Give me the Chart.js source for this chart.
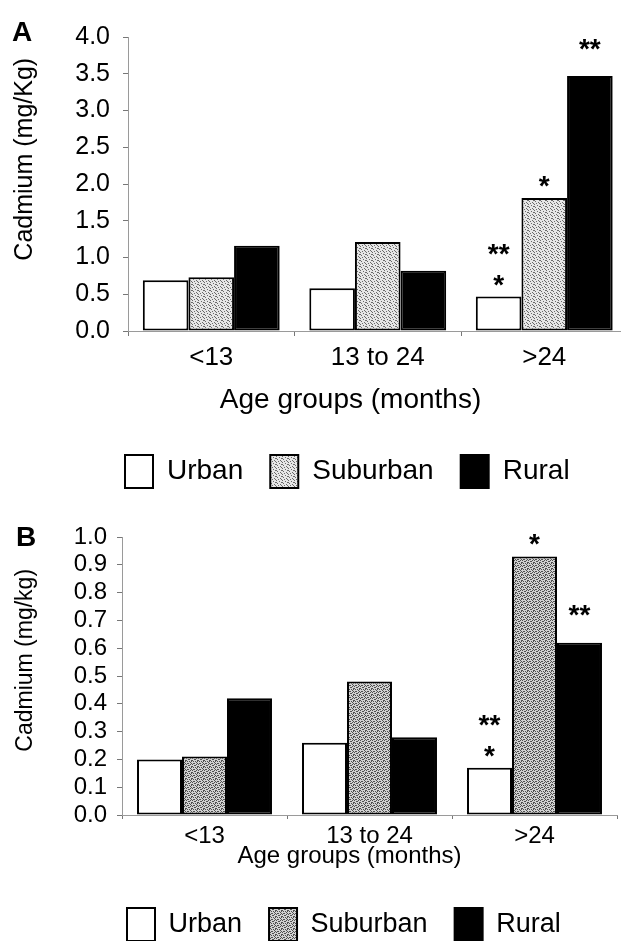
<!DOCTYPE html>
<html>
<head>
<meta charset="utf-8">
<script src="https://cdn.jsdelivr.net/npm/chart.js@4.4.1/dist/chart.umd.min.js"></script>
<style>
    html, body { margin: 0; padding: 0; background: #fff; overflow: hidden; width: 621px; height: 941px; }
    canvas { position: absolute; left: 0; }
    #chartA { top: 0; }
    #chartB { top: 500px; }
    .panel { position: absolute; font: bold 28px "Liberation Sans", Arial, sans-serif; line-height: 28px; color: #000; }
</style>
</head>
<body>
<canvas id="chartA" width="640" height="498"></canvas>
<canvas id="chartB" width="640" height="451"></canvas>
<div class="panel" style="left:12px; top:18px;">A</div>
<div class="panel" style="left:16px; top:523px;">B</div>
<script>
// age groups shared by both panels
const ageGroups = ['<13', '13 to 24', '>24'];
const seriesNames = ['Urban', 'Suburban', 'Rural'];

// panel A, cadmium mg/Kg
const urbanA = [0.69, 0.58, 0.47];
const suburbanA = [0.73, 1.21, 1.81];
const ruralA = [1.16, 0.82, 3.47];
const yMaxA = 4.0;
const yStepA = 0.5;

// panel B, cadmium mg/kg
const urbanB = [0.20, 0.26, 0.17];
const suburbanB = [0.21, 0.48, 0.93];
const ruralB = [0.42, 0.28, 0.62];
const yMaxB = 1.0;
const yStepB = 0.1;

// significance marks, listed from the bar upwards
const starsA = [
    [[], [], ['*', '**']],
    [[], [], ['*']],
    [[], [], ['**']]
];
const starsB = [
    [[], [], ['*', '**']],
    [[], [], ['*']],
    [[], [], ['**']]
];

const FONT = '"Liberation Sans", Arial, sans-serif';
Chart.defaults.font.family = FONT;
Chart.defaults.color = '#000';

function stipple(base, dot, pts) {
    const c = document.createElement('canvas');
    c.width = 6;
    c.height = 6;
    const g = c.getContext('2d');
    g.fillStyle = base;
    g.fillRect(0, 0, 6, 6);
    g.fillStyle = dot;
    pts.forEach(p => g.fillRect(p[0], p[1], 1, 1));
    return g.createPattern(c, 'repeat');
}

const lightDots = [[0, 0], [3, 1], [5, 2], [1, 3], [4, 4], [2, 5], [5, 5], [0, 2]];
const darkDots = lightDots.concat([[2, 1], [4, 0], [1, 5], [3, 3], [5, 3]]);

const starsPlugin = {
    id: 'stars',
    afterDatasetsDraw(chart, args, opts) {
        const ctx = chart.ctx;
        const size = opts.size;
        ctx.save();
        ctx.font = 'bold ' + size + 'px ' + FONT;
        ctx.fillStyle = '#000';
        ctx.textAlign = 'center';
        ctx.textBaseline = 'alphabetic';
        opts.marks.forEach((series, di) => {
            const meta = chart.getDatasetMeta(di);
            series.forEach((lines, i) => {
                const bar = meta.data[i];
                lines.forEach((txt, k) => {
                    const cy = bar.y - opts.gap[di] - k * opts.step;
                    ctx.fillText(txt, bar.x, cy + 0.56 * size);
                });
            });
        });
        ctx.restore();
    }
};

// moves the legend row sideways after layout
const legendShift = {
    id: 'legendShift',
    afterLayout(chart, args, opts) {
        if (!chart.legend) return;
        chart.legend.left += opts.x;
        chart.legend.right += opts.x;
    }
};

function makeChart(id, cfg) {
    const nb = '\u00a0';
    const ctx = document.getElementById(id).getContext('2d');
    const bar = {
        categoryPercentage: cfg.groupWidth,
        barPercentage: 1.0,
        borderColor: '#000',
        borderWidth: 2,
        borderSkipped: false
    };
    return new Chart(ctx, {
        type: 'bar',
        data: {
            labels: ageGroups,
            datasets: [
                Object.assign({ label: seriesNames[0], data: cfg.urban, backgroundColor: '#fff' }, bar),
                Object.assign({ label: seriesNames[1], data: cfg.suburban, backgroundColor: cfg.pattern }, bar),
                Object.assign({ label: seriesNames[2], data: cfg.rural, backgroundColor: '#000' }, bar)
            ]
        },
        options: {
            responsive: false,
            animation: false,
            layout: { padding: { top: cfg.top, right: cfg.right, bottom: 0, left: 0 } },
            scales: {
                x: {
                    afterFit: function(scale) { scale.height = cfg.xHeight; },
                    grid: { display: true, drawOnChartArea: false, drawTicks: true, tickLength: cfg.xTick, color: '#777' },
                    border: { display: true, color: '#9a9a9a', width: 1, dash: [2, 2] },
                    ticks: { padding: cfg.xPad, font: { size: cfg.xFont }, color: '#000' },
                    title: {
                        display: true,
                        text: 'Age groups (months)' + nb.repeat(cfg.xShift),
                        font: { size: cfg.xTitleFont },
                        padding: { top: 0, bottom: cfg.xTitlePad },
                        color: '#000'
                    }
                },
                y: {
                    min: 0,
                    max: cfg.yMax,
                    afterFit: function(scale) { scale.width = cfg.yWidth; },
                    grid: { display: true, drawOnChartArea: false, drawTicks: true, tickLength: 5, color: '#777' },
                    border: { display: true, color: '#9a9a9a', width: 1, dash: [2, 2] },
                    ticks: {
                        stepSize: cfg.yStep,
                        autoSkip: false,
                        padding: cfg.yPad,
                        font: { size: cfg.yFont },
                        color: '#000',
                        callback: function(value) { return value.toFixed(1); }
                    },
                    title: {
                        display: true,
                        align: 'end',
                        text: cfg.yTitle + nb.repeat(cfg.yShift),
                        font: { size: cfg.yTitleFont },
                        padding: { top: cfg.yTitlePad, bottom: 0 },
                        color: '#000'
                    }
                }
            },
            plugins: {
                legend: {
                    position: 'bottom',
                    align: 'start',
                    labels: {
                        boxWidth: 28,
                        boxHeight: 33,
                        padding: 27,
                        color: '#000',
                        font: { size: cfg.legendFont }
                    }
                },
                legendShift: { x: cfg.legendX },
                tooltip: { enabled: false },
                stars: { marks: cfg.stars, size: 28, gap: [18, 19, 34], step: 31 }
            }
        },
        plugins: [starsPlugin, legendShift]
    });
}

makeChart('chartA', {
    urban: urbanA, suburban: suburbanA, rural: ruralA, stars: starsA,
    pattern: stipple('#e6e6e6', '#6a6a6a', lightDots),
    yMax: yMaxA, yStep: yStepA, yTitle: 'Cadmium (mg/Kg)',
    groupWidth: 0.822, top: 37, right: 12.5, yWidth: 128, xHeight: 97,
    xTick: 5, xPad: 6, xFont: 26, xTitleFont: 28, xTitlePad: 11, xShift: 7,
    yPad: 13, yFont: 25, yTitleFont: 25, yTitlePad: 10, yShift: 3,
    legendFont: 28, legendX: 98
});

makeChart('chartB', {
    urban: urbanB, suburban: suburbanB, rural: ruralB, stars: starsB,
    pattern: stipple('#d2d2d2', '#505050', darkDots),
    yMax: yMaxB, yStep: yStepB, yTitle: 'Cadmium (mg/kg)',
    groupWidth: 0.818, top: 37, right: 23, yWidth: 122, xHeight: 66,
    xTick: 4, xPad: 3, xFont: 24, xTitleFont: 24, xTitlePad: 10, xShift: 6,
    yPad: 10, yFont: 24, yTitleFont: 23, yTitlePad: 12, yShift: 5,
    legendFont: 27, legendX: 100
});
</script>
</body>
</html>
